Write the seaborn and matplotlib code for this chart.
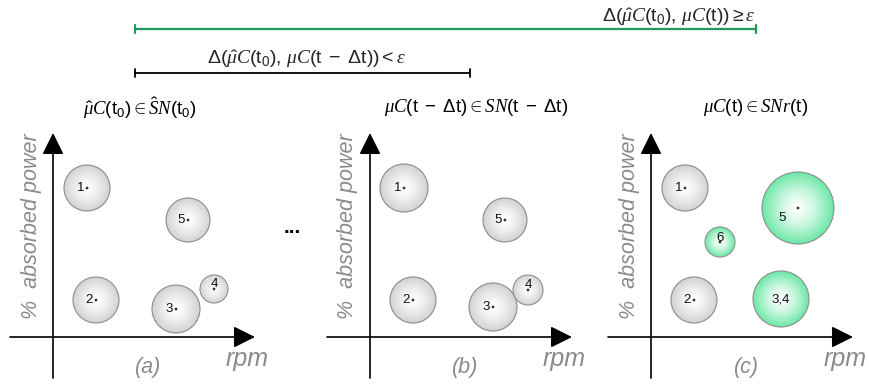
import numpy as np
import pandas as pd
import seaborn as sns
import matplotlib.pyplot as plt
from matplotlib.colors import to_rgb

# ---- cluster data: (rpm, % absorbed power) centre, radius, label ----
labels_a = ["1", "2", "3", "4", "5"]
rpm_a = [34, 43, 123, 161, 135]
power_a = [149, 37, 28, 48, 117]
radius_a = [23, 23, 24, 14, 22]

labels_b = ["1", "2", "3", "4", "5"]
rpm_b = [34, 43, 123, 158, 135]
power_b = [149, 37, 30, 47, 117]
radius_b = [24, 23, 24, 15, 22]

labels_c = ["1", "2", "6", "5", "3,4"]
rpm_c = [34, 43, 69, 147, 130]
power_c = [149, 37, 95, 129, 38]
radius_c = [23, 23, 15, 36, 28]
state_c = ["same", "same", "changed", "changed", "changed"]

panel_letters = ["(a)", "(b)", "(c)"]
panel_titles = [
    r"$\hat{\mu}C(\mathrm{t}_0) \in \hat{S}N(\mathrm{t}_0)$",
    r"$\mu C(\mathrm{t\ -\ \Delta t}) \in SN(\mathrm{t\ -\ \Delta t})$",
    r"$\mu C(\mathrm{t}) \in SNr(\mathrm{t})$",
]
span_long = r"$\Delta(\hat{\mu}C(\mathrm{t}_0),\, \mu C(\mathrm{t})) \geq \varepsilon$"
span_short = r"$\Delta(\hat{\mu}C(\mathrm{t}_0),\, \mu C(\mathrm{t\ -\ \Delta t})) < \varepsilon$"

# ---- styling ----
sns.set_theme(style="white")
plt.rcParams["font.family"] = ["Liberation Sans", "DejaVu Sans"]
plt.rcParams["mathtext.fontset"] = "custom"
plt.rcParams["mathtext.it"] = "Liberation Serif:italic"
plt.rcParams["mathtext.rm"] = "Liberation Sans"
plt.rcParams["mathtext.sf"] = "Liberation Sans"

FILL = {"same": "#d3d3d3", "changed": "#70e8a9"}
GREEN_LINE = "#1f9a5c"
EDGE_GRAY = "#8c8c8c"
LABEL_GRAY = "#8a8a8a"
DPI = 100
W, H = 869, 389

fig = plt.figure(figsize=(W / DPI, H / DPI), dpi=DPI)

XMIN, XMAX = -43, 202
YMIN, YMAX = -41, 204
panel_left_px = [10, 327, 608]
axes_bottom_px = 378


def mix(c, f):
    c = np.array(to_rgb(c))
    return tuple(1 - (1 - c) * f)


def draw_bubbles(ax, df):
    pt_per_px = 72 / DPI
    n_layers = 18
    for k in range(n_layers):
        f = 1 - k / n_layers
        sizes = (2 * df["radius"] * f * pt_per_px) ** 2
        pal = {s: mix(col, f ** 1.4) for s, col in FILL.items()}
        first = k == 0
        sns.scatterplot(
            data=df, x="rpm", y="power", hue="state", palette=pal,
            s=sizes.to_numpy(), legend=False, ax=ax,
            edgecolor=EDGE_GRAY if first else "none",
            linewidth=0.8 if first else 0, zorder=3 + k * 0.01,
        )


# label placement relative to the centre (px), per label text
label_offset = {"4": (0, 5, "center"), "6": (0, 4, "center"),
                "3,4": (0, 0, "center")}
no_dot = {"3,4"}

datasets = [
    (labels_a, rpm_a, power_a, radius_a, ["same"] * 5),
    (labels_b, rpm_b, power_b, radius_b, ["same"] * 5),
    (labels_c, rpm_c, power_c, radius_c, state_c),
]

for i, (lab, xs, ys, rs, st) in enumerate(datasets):
    ax = fig.add_axes([panel_left_px[i] / W, (H - axes_bottom_px) / H,
                       (XMAX - XMIN) / W, (YMAX - YMIN) / H])
    ax.set_xlim(XMIN, XMAX)
    ax.set_ylim(YMIN, YMAX)
    ax.set_axis_off()

    df = pd.DataFrame({"label": lab, "rpm": xs, "power": ys,
                       "radius": rs, "state": st})
    draw_bubbles(ax, df)

    dots = df[~df["label"].isin(no_dot)]
    sns.scatterplot(data=dots, x="rpm", y="power", color="#333333", s=4,
                    edgecolor="none", legend=False, ax=ax, zorder=5)

    for _, r in df.iterrows():
        if r["label"] in label_offset:
            dx, dy, ha = label_offset[r["label"]]
        elif i == 2 and r["label"] == "5":
            dx, dy, ha = -12, -10, "right"
        else:
            dx, dy, ha = -3, 0, "right"
        ax.text(r["rpm"] + dx, r["power"] + dy, r["label"], ha=ha,
                va="center", fontsize=9.5, color="#111111", zorder=6)

    # arrowed axes
    arrow = dict(arrowstyle="-|>,head_length=0.6,head_width=0.3",
                 color="black", lw=1.2, mutation_scale=22,
                 shrinkA=0, shrinkB=0)
    ax.annotate("", xy=(XMAX, 0), xytext=(XMIN, 0), arrowprops=arrow)
    ax.annotate("", xy=(0, YMAX), xytext=(0, YMIN), arrowprops=arrow)

    ax.text(-22, 111, "%  absorbed power", rotation=90, ha="center",
            va="center", fontsize=15.5, style="italic", color=LABEL_GRAY)
    ax.text(194, -22, "rpm", ha="center", va="center", fontsize=18,
            style="italic", color=LABEL_GRAY)
    ax.text(95, -31, panel_letters[i], ha="center", va="center",
            fontsize=15.5, style="italic", color=LABEL_GRAY)
    title_x = [87, 106, 105][i]
    ax.text(title_x, 229, panel_titles[i], ha="center", va="center",
            fontsize=13.5, color="black")

# ---- overlay for the time-span brackets and the ellipsis ----
ov = fig.add_axes([0, 0, 1, 1])
ov.set_xlim(0, W)
ov.set_ylim(H, 0)
ov.set_axis_off()

ov.annotate("", xy=(756, 29), xytext=(135, 29),
            arrowprops=dict(arrowstyle="|-|,widthA=0.25,widthB=0.25",
                            color=GREEN_LINE, lw=1.6, shrinkA=0, shrinkB=0))
ov.text(755, 17, span_long, ha="right", va="center", fontsize=14)

ov.annotate("", xy=(470, 73), xytext=(135, 73),
            arrowprops=dict(arrowstyle="|-|,widthA=0.25,widthB=0.25",
                            color="black", lw=1.3, shrinkA=0, shrinkB=0))
ov.text(306, 59, span_short, ha="center", va="center", fontsize=14)

ov.text(292, 227, "...", ha="center", va="center", fontsize=15,
        fontweight="bold", color="black")

fig.savefig("out.png", dpi=DPI)
